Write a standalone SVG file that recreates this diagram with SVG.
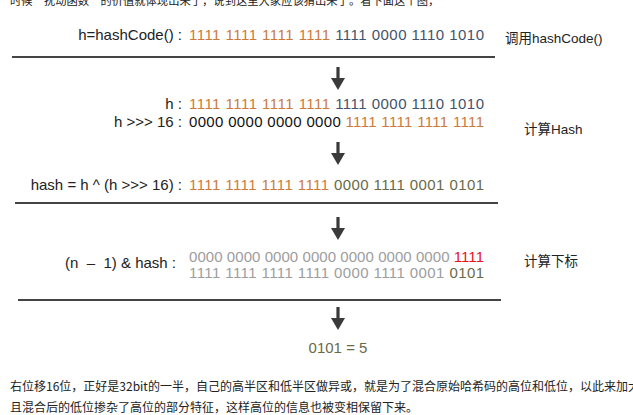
<svg xmlns="http://www.w3.org/2000/svg" xmlns:xlink="http://www.w3.org/1999/xlink" width="633" height="415" viewBox="0 0 633 415">
<style>
.para{font-family:"Noto Sans CJK SC","Noto Sans",sans-serif;font-size:12px;fill:#222}
.top{font-size:11.3px}
.lbl{font-family:"Liberation Sans",Arial,sans-serif;font-size:15px;fill:#222;text-anchor:end}
.bin{font-family:"Liberation Sans",Arial,sans-serif;font-size:15px}
.side{font-family:"Liberation Sans","Noto Sans CJK SC",sans-serif;font-size:13.5px;fill:#222}
.or{fill:#cc7a3c}.bl{fill:#43536b}.bk{fill:#111}.ol{fill:#6a6a48}.gr{fill:#9d9d9d}.rd{fill:#e8121e}
.rule{stroke:#444;stroke-width:2.2}
.arr{fill:#3a3a3a}
</style>
<defs>
<g id="arrow"><rect x="-1.6" y="0" width="3.2" height="13"/><polygon points="-7,11 7,11 0,23"/></g>
</defs>
<rect width="633" height="415" fill="#fff"/>
<text class="para top" x="10" y="5">时候“扰动函数”的价值就体现出来了，说到这里大家应该猜出来了。看下面这个图，</text>

<g id="row-hashcode">
<text class="lbl" x="182" y="40">h=hashCode() :</text>
<text class="bin" x="189" y="40" textLength="295" lengthAdjust="spacing"><tspan class="or">1111 1111 1111 1111 </tspan><tspan class="bl">1111 0000 1110 1010</tspan></text>
<text class="side" x="505" y="43">调用hashCode()</text>
</g>

<g id="row-h">
<text class="lbl" x="182" y="109">h :</text>
<text class="bin" x="189" y="109" textLength="295" lengthAdjust="spacing"><tspan class="or">1111 1111 1111 1111 </tspan><tspan class="bl">1111 0000 1110 1010</tspan></text>
</g>
<g id="row-shift">
<text class="lbl" x="182" y="127">h &gt;&gt;&gt; 16 :</text>
<text class="bin" x="189" y="127" textLength="295" lengthAdjust="spacing"><tspan class="bk">0000 0000 0000 0000 </tspan><tspan class="or">1111 1111 1111 1111</tspan></text>
<text class="side" x="524" y="134">计算Hash</text>
</g>

<g id="row-hash">
<text class="lbl" x="182" y="190">hash = h ^ (h &gt;&gt;&gt; 16) :</text>
<text class="bin" x="189" y="190" textLength="295" lengthAdjust="spacing"><tspan class="or">1111 1111 1111 1111 </tspan><tspan class="ol">0000 1111 0001 0101</tspan></text>
</g>

<g id="row-index">
<text class="lbl" x="176" y="268" xml:space="preserve">(n  –  1) &amp; hash :</text>
<text class="bin" x="189" y="262" textLength="295" lengthAdjust="spacing"><tspan class="gr">0000 0000 0000 0000 0000 0000 0000 </tspan><tspan class="rd">1111</tspan></text>
<text class="bin" x="189" y="278" textLength="295" lengthAdjust="spacing"><tspan class="gr">1111 1111 1111 1111 0000 1111 0001 </tspan><tspan class="ol">0101</tspan></text>
<text class="side" x="524" y="266">计算下标</text>
</g>

<g id="row-result">
<text class="bin ol" x="338" y="353" text-anchor="middle">0101 = 5</text>
</g>

<g id="connectors">
<line class="rule" x1="12" y1="57" x2="495" y2="57"/>
<line class="rule" x1="15" y1="203" x2="498" y2="203"/>
<line class="rule" x1="18" y1="300" x2="501" y2="300"/>
<use xlink:href="#arrow" class="arr" x="338" y="67"/>
<use xlink:href="#arrow" class="arr" x="338" y="142"/>
<use xlink:href="#arrow" class="arr" x="338" y="217"/>
<use xlink:href="#arrow" class="arr" x="338" y="307"/>
</g>

<text class="para" x="10" y="391">右位移16位，正好是32bit的一半，自己的高半区和低半区做异或，就是为了混合原始哈希码的高位和低位，以此来加大</text>
<text class="para" x="10" y="412">且混合后的低位掺杂了高位的部分特征，这样高位的信息也被变相保留下来。</text>
</svg>
